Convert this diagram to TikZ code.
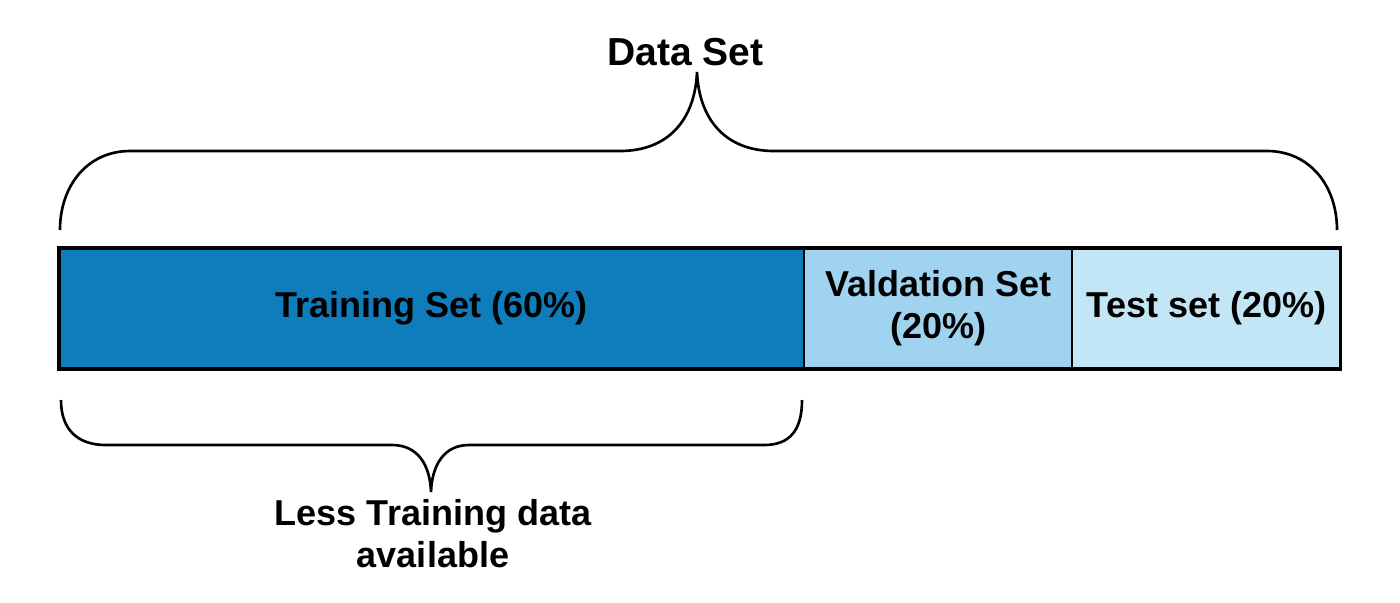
\documentclass[tikz,border=0pt]{standalone}
\usepackage{fontspec}
\setmainfont{Liberation Sans}
\usetikzlibrary{positioning}
\definecolor{trainblue}{HTML}{0F7DBC}
\definecolor{validblue}{HTML}{A0D3F0}
\definecolor{testblue}{HTML}{C3E6F6}

\begin{document}
\begin{tikzpicture}[
    x=0.01cm, y=-0.01cm,
    txt/.style={font=\fontsize{10.24pt}{11.95pt}\selectfont\bfseries, align=center},
    part/.style={rectangle, draw, line width=0.6pt, outer sep=0pt, inner sep=0pt, minimum height=1.21cm, txt},
    brace/.style={line width=0.75pt}
]
\useasboundingbox (0,0) rectangle (1400,602);

% Split bar
\node[part, fill=trainblue, minimum width=7.45cm] (train) at (431.5,308.5) {Training Set (60\%)};
\node[part, fill=validblue, minimum width=2.68cm, right=0pt of train] (valid) {Valdation Set\\(20\%)};
\node[part, fill=testblue, minimum width=2.68cm, right=0pt of valid] (test) {Test set (20\%)};
\draw[line width=1pt] (train.north west) rectangle (test.south east);

% Labels
\node[txt, font=\fontsize{11.1pt}{13pt}\selectfont\bfseries, anchor=base] (dataset) at (685.5,65) {Data Set};
\node[txt, anchor=north, inner sep=0pt] (less) at (433,499) {Less Training data\\available};

% Braces
\draw[brace] (60,230) .. controls (60,185) and (88,151) .. (130,151) -- (620,151)
    .. controls (668,151) and (695,120) .. (697,72)
    .. controls (699,120) and (726,151) .. (774,151) -- (1267,151)
    .. controls (1309,151) and (1337,185) .. (1337,230);
\draw[brace] (61,400) .. controls (61,430) and (78,445) .. (106,445) -- (392,445)
    .. controls (418,445) and (430,465) .. (431,492)
    .. controls (432,465) and (444,445) .. (469,445) -- (764,445)
    .. controls (790,445) and (802,430) .. (802,400);

\end{tikzpicture}
\end{document}
